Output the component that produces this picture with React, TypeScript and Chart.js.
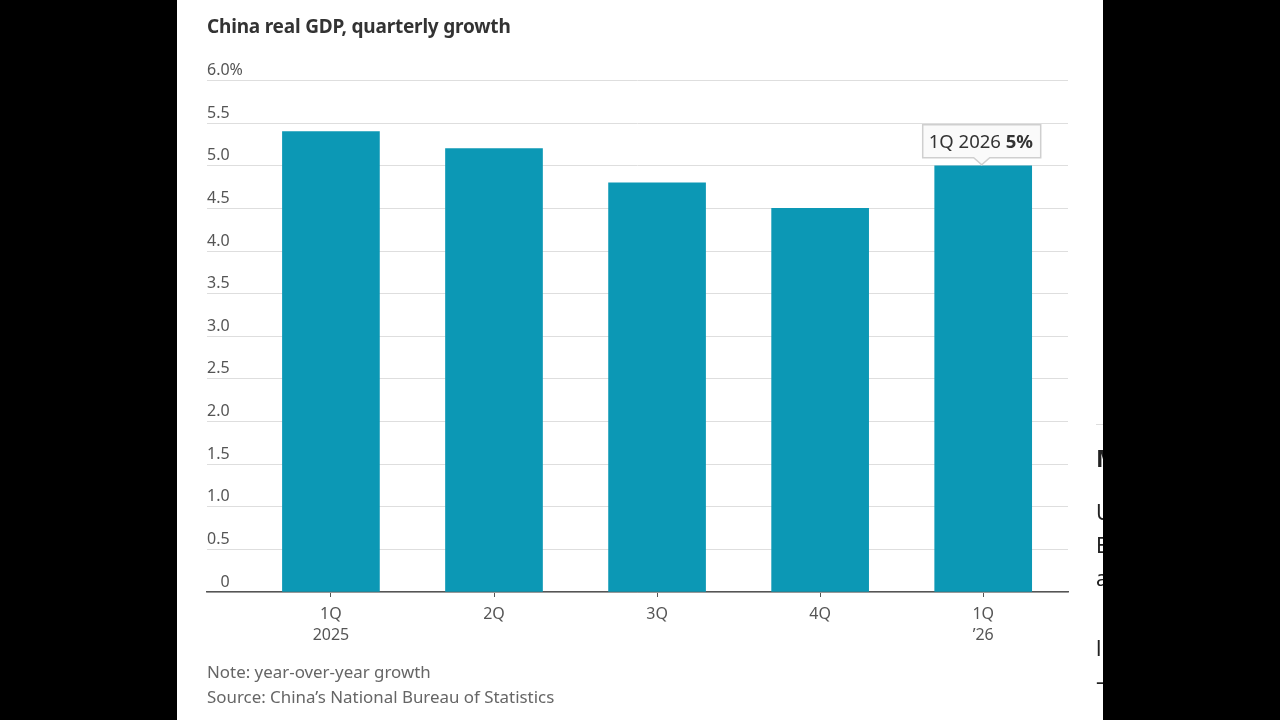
import React, { useEffect, useRef } from 'react';
import { Chart, registerables } from 'chart.js';
Chart.register(...registerables);

const quarters = [['1Q', '2025'], ['2Q'], ['3Q'], ['4Q'], ['1Q', '’26']];
const growth = [5.4, 5.2, 4.8, 4.5, 5.0];
const yTicks = [0, 0.5, 1, 1.5, 2, 2.5, 3, 3.5, 4, 4.5, 5, 5.5, 6];
// figure + punctuation space so the lone 0 lines up with the digit column
const yTickLabels = ['\u2007\u20080', '0.5', '1.0', '1.5', '2.0', '2.5', '3.0', '3.5', '4.0', '4.5', '5.0', '5.5', '6.0%'];

const FONT = '"Noto Sans", sans-serif';
const TEAL = '#0c98b5';

// bits of the next article that show at the panel's cut edge
const clipped = [
  { text: 'M', top: 444, size: 24, bold: true },
  { text: 'U', top: 498, size: 21, bold: false },
  { text: 'E', top: 531, size: 21, bold: false },
  { text: 'a', top: 564, size: 21, bold: false },
  { text: 'l', top: 634, size: 21, bold: false },
  { text: '—', top: 667, size: 21, bold: false },
];

const calloutPlugin = {
  id: 'callout',
  afterDatasetsDraw(chart: Chart) {
    const { ctx } = chart;
    const bar = chart.getDatasetMeta(0).data[growth.length - 1];
    const x = bar.x - 1.5;
    const y = bar.y;
    const w = 118;
    const h = 33;
    const left = x - w / 2;
    const top = y - 41;
    ctx.save();
    ctx.fillStyle = '#fafafa';
    ctx.strokeStyle = '#cfcfcf';
    ctx.lineWidth = 1.5;
    ctx.beginPath();
    ctx.moveTo(left, top);
    ctx.lineTo(left + w, top);
    ctx.lineTo(left + w, top + h);
    ctx.lineTo(x + 8, top + h);
    ctx.lineTo(x, top + h + 7);
    ctx.lineTo(x - 8, top + h);
    ctx.lineTo(left, top + h);
    ctx.closePath();
    ctx.fill();
    ctx.stroke();
    ctx.textBaseline = 'middle';
    ctx.textAlign = 'left';
    ctx.fillStyle = '#333';
    ctx.font = `18.5px ${FONT}`;
    const label = '1Q 2026 ';
    ctx.fillText(label, left + 6, top + h / 2 + 1);
    const lw = ctx.measureText(label).width;
    ctx.font = `bold 18.5px ${FONT}`;
    ctx.fillText('5%', left + 6 + lw, top + h / 2 + 1);
    ctx.restore();
  },
};

const App: React.FC = () => {
  const canvasRef = useRef<HTMLCanvasElement>(null);

  useEffect(() => {
    document.body.style.margin = '0';
    if (!canvasRef.current) return;
    const chart = new Chart(canvasRef.current, {
      type: 'bar',
      data: {
        datasets: [{
          data: growth.map((v, i) => ({ x: i, y: v })),
          backgroundColor: TEAL,
          barThickness: 97,
        }],
      },
      options: {
        animation: false,
        responsive: false,
        layout: { padding: { left: 30, right: 35, top: 80.5, bottom: 0 } },
        plugins: { legend: { display: false }, tooltip: { enabled: false } },
        scales: {
          x: {
            type: 'linear',
            offset: false,
            min: -0.76,
            max: 4.52,
            afterBuildTicks: (axis: any) => {
              axis.ticks = quarters.map((_, i) => ({ value: i }));
            },
            afterFit: (axis: any) => {
              axis.height = 128;
            },
            grid: { offset: false, drawOnChartArea: false, drawTicks: true, tickLength: 5, color: '#555' },
            border: { display: true, color: '#555', width: 1.5 },
            ticks: {
              color: '#555',
              font: { family: FONT, size: 16, lineHeight: 1.3 },
              padding: 7,
              maxRotation: 0,
              autoSkip: false,
              callback: (_v: any, i: number) => quarters[i],
            },
          },
          y: {
            min: 0,
            max: 6,
            afterBuildTicks: (axis: any) => {
              axis.ticks = yTicks.map((value) => ({ value }));
            },
            grid: { color: '#dedede', lineWidth: 1, drawTicks: false },
            border: { display: false },
            ticks: {
              mirror: true,
              padding: 0,
              labelOffset: -10,
              color: '#555',
              font: { family: FONT, size: 16 },
              autoSkip: false,
              callback: (_v: any, i: number) => yTickLabels[i],
            },
          },
        },
      },
      plugins: [calloutPlugin],
    } as any);
    return () => chart.destroy();
  }, []);

  return (
    <div style={{ position: 'fixed', inset: 0, background: '#000' }}>
      <div style={{ position: 'absolute', left: 177, top: 0, width: 926, height: 720, background: '#fff', overflow: 'hidden', fontFamily: FONT }}>
        <canvas ref={canvasRef} width={926} height={720} style={{ position: 'absolute', left: 0, top: 0, display: 'block' }} />
        <div style={{ position: 'absolute', left: 30, top: 12, fontSize: 19, letterSpacing: '-0.2px', fontWeight: 700, lineHeight: '28px', color: '#333' }}>
          China real GDP, quarterly growth
        </div>
        <div style={{ position: 'absolute', left: 30, top: 659, fontSize: 16.9, lineHeight: '25px', color: '#666' }}>
          Note: year-over-year growth<br />Source: China’s National Bureau of Statistics
        </div>
        <div style={{ position: 'absolute', left: 919, top: 424, width: 7, height: 1, background: '#dedede' }} />
        {clipped.map((c) => (
          <div key={c.top} style={{ position: 'absolute', left: 919, top: c.top, fontSize: c.size, lineHeight: '28px', fontWeight: c.bold ? 700 : 400, color: '#222' }}>
            {c.text}
          </div>
        ))}
      </div>
    </div>
  );
};

export default App;
